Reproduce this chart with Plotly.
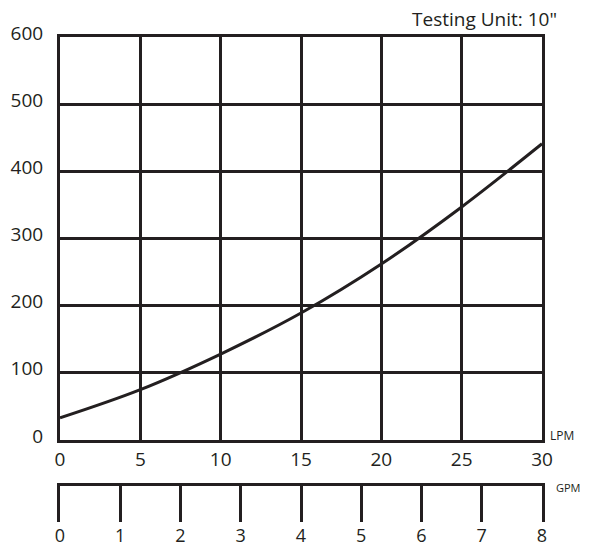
import plotly.graph_objects as go

# Data
flow_lpm = [0, 5, 10, 15, 20, 25, 30]
pressure = [33, 75, 128, 189, 262, 347, 441]

lpm_ticks = [0, 5, 10, 15, 20, 25, 30]
y_ticks = [0, 100, 200, 300, 400, 500, 600]
gpm_ticks = [0, 1, 2, 3, 4, 5, 6, 7, 8]

INK = "#231f20"
FONT = "Open Sans"
TICK_SIZE = 19

fig = go.Figure()
fig.add_trace(go.Scatter(
    x=flow_lpm, y=pressure, mode="lines",
    line=dict(color=INK, width=3, shape="spline"),
    xaxis="x", yaxis="y", showlegend=False, hoverinfo="skip",
))
# empty traces so the GPM scale subplot is created
fig.add_trace(go.Scatter(x=[], y=[], xaxis="x2", yaxis="y2",
                         showlegend=False, hoverinfo="skip"))
fig.add_trace(go.Scatter(x=[], y=[], xaxis="x3", yaxis="y2",
                         showlegend=False, hoverinfo="skip"))

H = 485.0
main_bottom = (522 - 440) / H
gpm_top = (522 - 486) / H

fig.update_layout(
    width=594, height=548,
    margin=dict(l=60, r=52, t=37, b=26),
    paper_bgcolor="white", plot_bgcolor="white",
    font=dict(family=FONT, size=TICK_SIZE, color=INK),
    showlegend=False,
    xaxis=dict(
        domain=[0, 1], anchor="y", range=[0, 30], automargin=False,
        tickvals=lpm_ticks, ticktext=[str(v) for v in lpm_ticks],
        showline=True, mirror=True, linewidth=3, linecolor=INK,
        showgrid=True, gridwidth=3, gridcolor=INK,
        zeroline=False, ticks="", tickfont=dict(size=TICK_SIZE, color=INK),
    ),
    yaxis=dict(
        domain=[main_bottom, 1], anchor="x", range=[0, 600], automargin=False,
        tickvals=y_ticks, ticktext=[str(v) for v in y_ticks],
        showline=True, mirror=True, linewidth=3, linecolor=INK,
        showgrid=True, gridwidth=3, gridcolor=INK,
        zeroline=False, ticks="", ticklabelstandoff=10, ticklabelshift=-4,
        tickfont=dict(size=TICK_SIZE, color=INK),
    ),
    xaxis2=dict(
        domain=[0, 1], anchor="y2", side="top", range=[0, 8], automargin=False,
        tickvals=gpm_ticks, showticklabels=False,
        ticks="inside", ticklen=36, tickwidth=3, tickcolor=INK,
        showline=True, linewidth=3, linecolor=INK,
        showgrid=False, zeroline=False,
    ),
    xaxis3=dict(
        overlaying="x2", anchor="y2", side="bottom", range=[0, 8], automargin=False,
        tickvals=gpm_ticks, ticktext=[str(v) for v in gpm_ticks],
        showline=False, ticks="", showgrid=False, zeroline=False,
        ticklabelstandoff=1,
        tickfont=dict(size=18, color=INK),
    ),
    yaxis2=dict(
        domain=[0, gpm_top], anchor="x2", range=[0, 1], automargin=False,
        showline=True, mirror=True, linewidth=3, linecolor=INK,
        showgrid=False, zeroline=False,
        showticklabels=False, ticks="",
    ),
    annotations=[
        dict(text='Testing Unit: 10"', xref="paper", yref="paper",
             x=1, y=1 + (37 - 19) / H, xanchor="right", yanchor="middle",
             xshift=17, showarrow=False, font=dict(size=19, color=INK)),
        dict(text="LPM", xref="paper", yref="paper",
             x=1, y=(522 - 435) / H, xanchor="left", yanchor="middle",
             xshift=6, showarrow=False, font=dict(size=12, color=INK)),
        dict(text="GPM", xref="paper", yref="paper",
             x=1, y=(522 - 487) / H, xanchor="left", yanchor="middle",
             xshift=12, showarrow=False, font=dict(size=11, color=INK)),
    ],
)

# remove the browser's default 8px body margin so the figure fills the window
fig.write_html("out.html", config={"displayModeBar": False},
               post_script="document.body.style.margin='0';")
